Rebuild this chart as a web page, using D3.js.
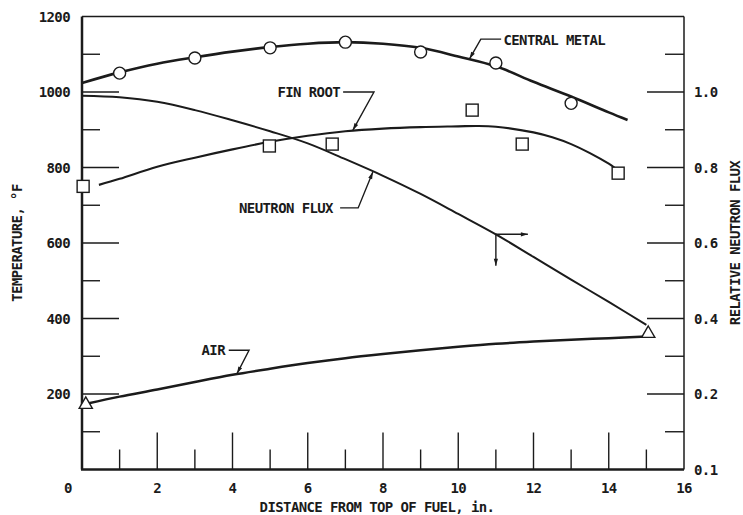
<!DOCTYPE html>
<html>
<head>
<meta charset="utf-8">
<script src="https://cdn.jsdelivr.net/npm/d3@7"></script>
<style>
  body { margin: 0; background: #fff; }
  text { font-family: "DejaVu Sans Mono", monospace; font-weight: bold; fill: #1b1b1b; font-size: 14px; letter-spacing: -0.6px; }
</style>
</head>
<body>
<div id="vis"></div>
<script>
// distance from top of fuel (in.) vs temperature (°F)
var metalX = [0, 1, 2, 3, 4, 5, 6, 7, 8, 9, 10, 11, 12, 13, 14, 14.5];
var metalT = [1024, 1052, 1075, 1092, 1107, 1119, 1128, 1132, 1128, 1117, 1094, 1068, 1027, 988, 946, 926];
var metalPtX = [1, 3, 5, 7, 9, 11, 13];
var metalPtT = [1050, 1090, 1117, 1132, 1106, 1077, 970];

var finX = [0.45, 1, 2, 3, 4, 5, 6, 7, 8, 9, 10, 10.5, 11, 12, 12.5, 13, 13.5, 14, 14.15];
var finT = [754, 770, 802, 826, 848, 868, 884, 896, 903, 907, 909, 910, 908, 893, 880, 862, 838, 810, 800];
var finPtX = [0.03, 4.98, 6.65, 10.37, 11.7, 14.25];
var finPtT = [750, 857, 862, 952, 862, 785];

var fluxX = [0, 1, 2, 3, 4, 5, 6, 7, 8, 9, 10, 11, 12, 13, 14, 15];
var fluxV = [0.99, 0.986, 0.974, 0.952, 0.925, 0.896, 0.864, 0.822, 0.778, 0.73, 0.677, 0.623, 0.563, 0.503, 0.444, 0.383];

var airX = [0.15, 1, 2, 3, 4, 5, 6, 7, 8, 9, 10, 11, 12, 13, 14, 15];
var airT = [175, 193, 212, 232, 251, 267, 282, 295, 306, 316, 325, 333, 339, 344, 348, 352];
var airPtX = [0.1, 15.05];
var airPtT = [172, 360];

var xTicks = [0, 2, 4, 6, 8, 10, 12, 14, 16];
var xMinor = [1, 3, 5, 7, 9, 11, 13, 15];
var xMajorIn = [2, 4, 6, 8, 10, 12, 14];
var tTicks = [200, 400, 600, 800, 1000, 1200];
var tMajorIn = [200, 400, 600, 800, 1000];
var tMinor = [100, 300, 500, 700, 900, 1100];
var fluxTicks = [0, 0.2, 0.4, 0.6, 0.8, 1.0];
var fluxLabels = ["0.1", "0.2", "0.4", "0.6", "0.8", "1.0"];
var fluxMinor = [0.1, 0.3, 0.5, 0.7, 0.9, 1.1];

var width = 743, height = 515;
var margin = {top: 16.5, right: 59, bottom: 45.5, left: 82};

var svg = d3.select("#vis").append("svg")
    .attr("width", width)
    .attr("height", height);

var x = d3.scaleLinear().domain([0, 16]).range([margin.left, width - margin.right]);
var y = d3.scaleLinear().domain([0, 1200]).range([height - margin.bottom, margin.top]);
var y2 = d3.scaleLinear().domain([0, 1.2]).range([height - margin.bottom, margin.top]);

var ink = "#1b1b1b";

svg.append("defs").append("marker")
    .attr("id", "arr")
    .attr("viewBox", "0 0 10 10")
    .attr("refX", 10).attr("refY", 5)
    .attr("markerWidth", 9).attr("markerHeight", 7)
    .attr("markerUnits", "userSpaceOnUse")
    .attr("orient", "auto")
    .append("path").attr("d", "M0,2 L10,5 L0,8 Z").attr("fill", ink);

// frame
var frame = svg.append("g").attr("stroke", ink).attr("fill", "none");
frame.append("line").attr("x1", x(0)).attr("x2", x(16)).attr("y1", y(1200)).attr("y2", y(1200)).attr("stroke-width", 1.5);
frame.append("line").attr("x1", x(16)).attr("x2", x(16)).attr("y1", y(1200)).attr("y2", y(0)).attr("stroke-width", 1.5);
frame.append("line").attr("x1", x(0)).attr("x2", x(0)).attr("y1", y(1200)).attr("y2", y(0)).attr("stroke-width", 2.5);
frame.append("line").attr("x1", x(0) - 1).attr("x2", x(16)).attr("y1", y(0)).attr("y2", y(0)).attr("stroke-width", 2.5);

// inward ticks
var ticks = svg.append("g").attr("stroke", ink).attr("stroke-width", 1.4);
ticks.selectAll(".xmaj").data(xMajorIn).enter().append("line")
    .attr("x1", d => x(d)).attr("x2", d => x(d)).attr("y1", y(0)).attr("y2", y(0) - 37);
ticks.selectAll(".xmin").data(xMinor).enter().append("line")
    .attr("x1", d => x(d)).attr("x2", d => x(d)).attr("y1", y(0)).attr("y2", y(0) - 20);
ticks.selectAll(".tmaj").data(tMajorIn).enter().append("line")
    .attr("x1", x(0)).attr("x2", x(0) + 37).attr("y1", d => y(d)).attr("y2", d => y(d));
ticks.selectAll(".tmin").data(tMinor).enter().append("line")
    .attr("x1", x(0)).attr("x2", x(0) + 18).attr("y1", d => y(d)).attr("y2", d => y(d));
ticks.selectAll(".fmaj").data(fluxTicks.slice(1)).enter().append("line")
    .attr("x1", x(16)).attr("x2", x(16) - 37).attr("y1", d => y2(d)).attr("y2", d => y2(d));
ticks.selectAll(".fmin").data(fluxMinor).enter().append("line")
    .attr("x1", x(16)).attr("x2", x(16) - 19).attr("y1", d => y2(d)).attr("y2", d => y2(d));

// tick labels
svg.append("g").selectAll("text").data(xTicks).enter().append("text")
    .attr("x", d => x(d) + (d === 0 ? -14 : 0))
    .attr("y", y(0) + 23)
    .attr("text-anchor", "middle")
    .text(d => d);
svg.append("g").selectAll("text").data(tTicks).enter().append("text")
    .attr("x", x(0) - 12)
    .attr("y", d => y(d) + 5)
    .attr("text-anchor", "end")
    .text(d => d);
svg.append("g").selectAll("text").data(fluxTicks).enter().append("text")
    .attr("x", x(16) + 10)
    .attr("y", d => y2(d) + 5)
    .text((d, i) => fluxLabels[i]);

// axis titles
svg.append("text").attr("x", 377).attr("y", height - 3).attr("text-anchor", "middle")
    .text("DISTANCE FROM TOP OF FUEL, in.");
svg.append("text").attr("transform", "translate(22," + y(600) + ") rotate(-90)")
    .attr("text-anchor", "middle").text("TEMPERATURE, °F");
svg.append("text").attr("transform", "translate(740," + y(600) + ") rotate(-90)")
    .attr("text-anchor", "middle").text("RELATIVE NEUTRON FLUX");

// curves
var line = d3.line().curve(d3.curveCatmullRom.alpha(0.5));
function drawCurve(xs, ys, sc, w) {
    svg.append("path")
        .attr("d", line(xs.map((d, i) => [x(d), sc(ys[i])])))
        .attr("fill", "none").attr("stroke", ink).attr("stroke-width", w);
}
drawCurve(metalX, metalT, y, 2.6);
drawCurve(finX, finT, y, 2.1);
drawCurve(fluxX, fluxV, y2, 2);
drawCurve(airX, airT, y, 2.5);

// data points
var pts = svg.append("g").attr("fill", "#fff").attr("stroke", ink).attr("stroke-width", 1.4);
pts.selectAll("circle").data(metalPtX).enter().append("circle")
    .attr("cx", d => x(d)).attr("cy", (d, i) => y(metalPtT[i])).attr("r", 6);
pts.selectAll("rect").data(finPtX).enter().append("rect")
    .attr("x", d => x(d) - 6).attr("y", (d, i) => y(finPtT[i]) - 6)
    .attr("width", 12).attr("height", 12);
pts.selectAll(".tri").data(airPtX).enter().append("path")
    .attr("d", d3.symbol().type(d3.symbolTriangle).size(75))
    .attr("transform", (d, i) => "translate(" + x(d) + "," + y(airPtT[i]) + ")");

// labels with leaders
var leaders = svg.append("g").attr("fill", "none").attr("stroke", ink).attr("stroke-width", 1.4);
function label(txt, tx, ty, anchor, pathPts) {
    svg.append("text").attr("x", x(tx)).attr("y", y(ty) + 5)
        .attr("text-anchor", anchor).text(txt);
    leaders.append("path")
        .attr("d", d3.line()(pathPts.map(p => [x(p[0]), y(p[1])])))
        .attr("marker-end", "url(#arr)");
}
label("CENTRAL METAL", 11.2, 1138, "start", [[11.14, 1140], [10.6, 1140], [10.3, 1088]]);
label("FIN ROOT", 6.86, 1000, "end", [[6.94, 1000], [7.76, 1000], [7.2, 899]]);
label("NEUTRON FLUX", 6.67, 693, "end", [[6.86, 693], [7.34, 693], [7.73, 788]]);
label("AIR", 3.8, 316, "end", [[3.9, 316], [4.44, 316], [4.12, 254]]);

// axis-reading arrows on flux curve
leaders.append("path").attr("d", d3.line()([[x(11), y2(0.623)], [x(11.85), y2(0.623)]])).attr("marker-end", "url(#arr)");
leaders.append("path").attr("d", d3.line()([[x(11), y2(0.623)], [x(11), y2(0.54)]])).attr("marker-end", "url(#arr)");
</script>
</body>
</html>
